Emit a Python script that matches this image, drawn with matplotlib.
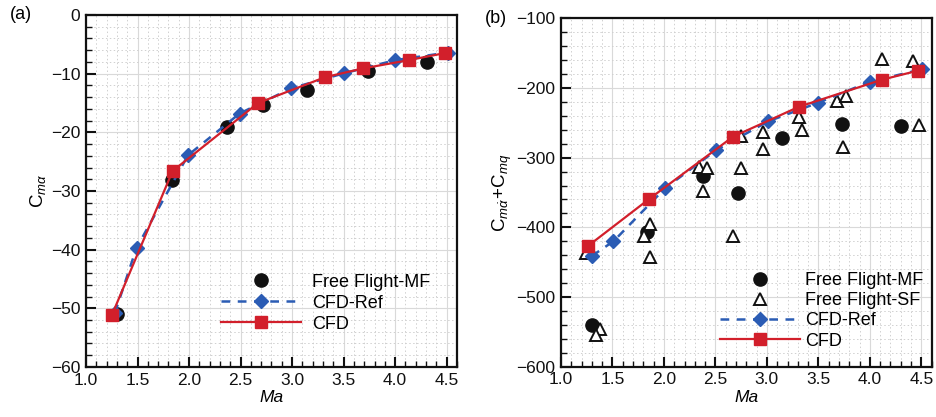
import matplotlib
matplotlib.use("Agg")
import matplotlib.pyplot as plt
from matplotlib.ticker import MultipleLocator

plt.rcParams['font.family'] = ['Liberation Sans', 'DejaVu Sans']
plt.rcParams['mathtext.fontset'] = 'custom'
plt.rcParams['mathtext.rm'] = 'Liberation Sans'
plt.rcParams['mathtext.it'] = 'Liberation Sans:italic'
plt.rcParams['mathtext.bf'] = 'Liberation Sans:bold'

# ---- (a) pitching moment derivative ----
a_mf_ma = [1.30, 1.83, 2.37, 2.72, 3.14, 3.74, 4.31]
a_mf_val = [-51.0, -28.2, -19.1, -15.4, -12.7, -9.6, -8.0]

a_ref_ma = [1.28, 1.49, 1.99, 2.49, 2.99, 3.50, 4.00, 4.51]
a_ref_val = [-50.8, -39.7, -23.9, -16.8, -12.5, -9.95, -7.7, -6.4]

a_cfd_ma = [1.25, 1.84, 2.67, 3.32, 3.69, 4.13, 4.48]
a_cfd_val = [-51.2, -26.6, -15.0, -10.6, -9.1, -7.7, -6.5]

# ---- (b) pitch damping derivative ----
b_mf_ma = [1.30, 1.84, 2.38, 2.72, 3.15, 3.73, 4.30]
b_mf_val = [-540, -407, -327, -351, -272, -251, -254]

b_sf_ma = [1.24, 1.38, 1.34, 1.81, 1.86, 1.86, 2.34, 2.42, 2.38, 2.67, 2.75, 2.75,
           2.96, 2.96, 3.31, 3.34, 3.68, 3.77, 3.74, 4.12, 4.42, 4.48]
b_sf_val = [-437, -546, -554, -412, -395, -442, -313, -315, -348, -412, -269, -315,
            -263, -288, -242, -260, -218, -212, -284, -159, -161, -253]

b_ref_ma = [1.30, 1.51, 2.01, 2.51, 3.01, 3.50, 4.00, 4.51]
b_ref_val = [-441, -420, -344, -289, -248, -221, -191, -173]

b_cfd_ma = [1.26, 1.85, 2.67, 3.31, 4.12, 4.47]
b_cfd_val = [-427, -360, -270, -227, -188, -175]

x_ticks = [1.0, 1.5, 2.0, 2.5, 3.0, 3.5, 4.0, 4.5]
x_tick_labels = ['1.0', '1.5', '2.0', '2.5', '3.0', '3.5', '4.0', '4.5']

RED = '#d21f2b'
BLUE = '#2b5cb4'

fig = plt.figure(figsize=(9.37, 4.17), dpi=100)
ax_a = fig.add_axes([0.0918, 0.120, 0.3959, 0.844])
ax_b = fig.add_axes([0.5987, 0.1206, 0.3956, 0.8355])


def style_axes(ax, ymin, ymax, ymajor, yminor):
    ax.set_xlim(1.0, 4.6)
    ax.set_ylim(ymin, ymax)
    ax.set_xticks(x_ticks)
    ax.set_xticklabels(x_tick_labels)
    ax.xaxis.set_minor_locator(MultipleLocator(0.1))
    ax.yaxis.set_major_locator(MultipleLocator(ymajor))
    ax.yaxis.set_minor_locator(MultipleLocator(yminor))
    ax.tick_params(which='both', direction='in', top=False, right=False,
                   labelsize=12.5, colors='#111111')
    ax.tick_params(which='major', length=7, width=1.5, pad=4)
    ax.tick_params(which='minor', length=4, width=1.0)
    for sp in ax.spines.values():
        sp.set_linewidth(1.6)
        sp.set_color('#111111')
    ax.grid(which='major', color='#d9d9d9', linewidth=0.8, linestyle='-')
    ax.grid(which='minor', color='#d0d0d0', linewidth=0.7, linestyle=(0, (1.5, 2.5)))
    ax.set_axisbelow(True)
    ax.set_xlabel('Ma', fontsize=12.5, fontstyle='italic', labelpad=2)


style_axes(ax_a, -60, 0, 10, 2)
style_axes(ax_b, -600, -100, 100, 20)

# panel (a)
ax_a.plot(a_mf_ma, a_mf_val, linestyle='none', marker='o', ms=9.5,
          color='#111111', label='Free Flight-MF', zorder=3)
ax_a.plot(a_ref_ma, a_ref_val, linestyle='--', dashes=(3.5, 3), marker='D', ms=7.5,
          color=BLUE, lw=1.8, label='CFD-Ref', zorder=4)
ax_a.plot(a_cfd_ma, a_cfd_val, linestyle='-', marker='s', ms=9,
          color=RED, lw=1.6, label='CFD', zorder=5)
ax_a.set_ylabel(r'$\mathrm{C}_{m\alpha}$', fontsize=13.5, labelpad=2)
ax_a.legend(loc='upper left', bbox_to_anchor=(0.365, 0.265), frameon=False,
            fontsize=13, handlelength=4.4, handletextpad=0.6, labelspacing=0.22,
            numpoints=1, borderpad=0, borderaxespad=0)

# panel (b)
ax_b.plot(b_mf_ma, b_mf_val, linestyle='none', marker='o', ms=9.5,
          color='#111111', label='Free Flight-MF', zorder=3)
ax_b.plot(b_sf_ma, b_sf_val, linestyle='none', marker='^', ms=8.5,
          mfc='white', mec='#111111', mew=1.4, label='Free Flight-SF', zorder=3)
ax_b.plot(b_ref_ma, b_ref_val, linestyle='--', dashes=(3.5, 3), marker='D', ms=7.5,
          color=BLUE, lw=1.8, label='CFD-Ref', zorder=4)
ax_b.plot(b_cfd_ma, b_cfd_val, linestyle='-', marker='s', ms=9,
          color=RED, lw=1.6, label='CFD', zorder=5)
ax_b.set_ylabel(r'$\mathrm{C}_{m\dot{\alpha}}\!+\!\mathrm{C}_{mq}$', fontsize=13.5, labelpad=2)
ax_b.legend(loc='upper left', bbox_to_anchor=(0.43, 0.272), frameon=False,
            fontsize=13, handlelength=4.4, handletextpad=0.3, labelspacing=0.18,
            numpoints=1, borderpad=0, borderaxespad=0)

fig.text(0.011, 0.965, '(a)', fontsize=13, va='center', ha='left')
fig.text(0.518, 0.955, '(b)', fontsize=13, va='center', ha='left')

fig.savefig('out.png', dpi=100)
